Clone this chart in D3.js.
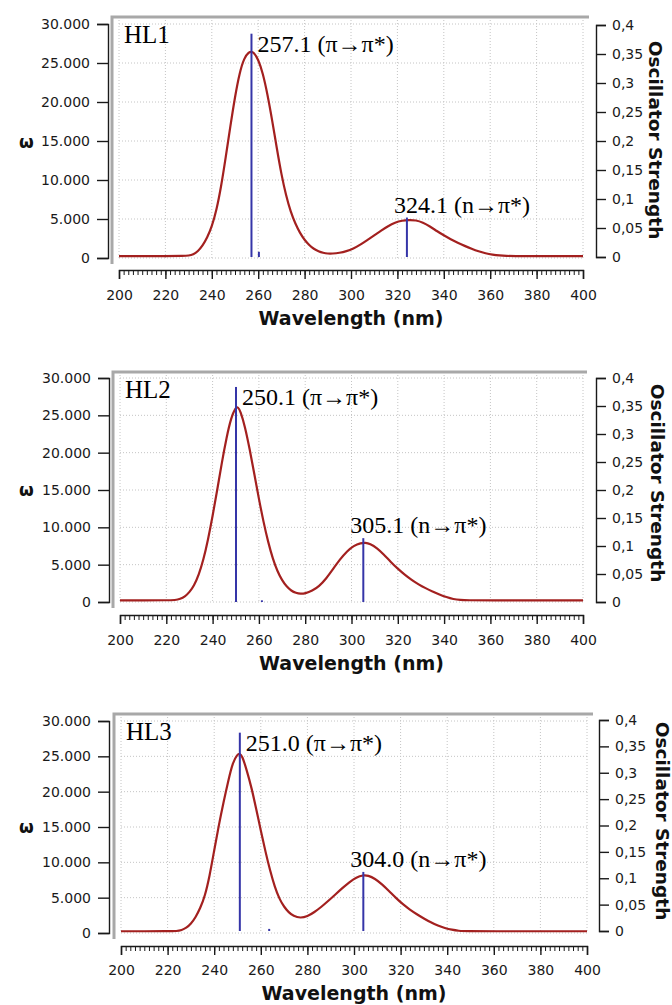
<!DOCTYPE html>
<html>
<head>
<meta charset="utf-8">
<script src="https://cdn.jsdelivr.net/npm/d3@7"></script>
<style>
  body { margin: 0; background: #fff; }
  svg { display: block; }
</style>
</head>
<body>
<div id="chart"></div>
<script>
// tick values
const wavelengthTicks = [200, 220, 240, 260, 280, 300, 320, 340, 360, 380, 400];
const epsilonTicks = [0, 5000, 10000, 15000, 20000, 25000, 30000];
const strengthTicks = [0, 0.05, 0.1, 0.15, 0.2, 0.25, 0.3, 0.35, 0.4];

// HL1 spectrum
const hl1Wl = [200, 210, 220, 228, 230, 232, 234, 236, 238, 240, 242, 244, 246, 248, 250, 252, 254, 256, 257, 258, 260, 262, 264, 266, 268, 270, 272, 274, 276, 278, 280, 282, 284, 286, 288, 290, 292, 295, 298, 301, 304, 307, 310, 313, 316, 319, 322, 325, 328, 331, 334, 337, 340, 343, 346, 349, 352, 355, 358, 361, 364, 367, 370, 380, 390, 400];
const hl1Eps = [250, 250, 250, 260, 300, 450, 850, 1550, 2600, 4000, 6100, 9100, 12900, 16900, 20700, 23800, 25700, 26400, 26450, 26400, 25500, 23700, 21000, 17700, 14100, 10700, 8000, 5900, 4400, 3200, 2300, 1650, 1150, 850, 650, 560, 560, 650, 850, 1200, 1700, 2300, 2900, 3500, 4100, 4550, 4800, 4880, 4850, 4550, 4050, 3450, 2900, 2400, 1950, 1550, 1180, 850, 600, 430, 320, 260, 250, 250, 250, 250];
const hl1StickWl = [257.1, 260.3, 324.1];
const hl1StickF = [0.385, 0.009, 0.068];
const hl1Notes = ["257.1 (π→π*)", null, "324.1 (n→π*)"];

// HL2 spectrum
const hl2Wl = [200, 210, 220, 224, 226, 228, 230, 232, 234, 236, 238, 240, 242, 244, 246, 248, 250, 251, 252, 254, 256, 258, 260, 262, 264, 266, 268, 270, 272, 274, 276, 278, 280, 283, 286, 289, 292, 295, 298, 301, 304, 306, 308, 311, 314, 317, 320, 323, 326, 329, 332, 335, 338, 341, 344, 347, 350, 360, 380, 400];
const hl2Eps = [230, 230, 230, 250, 400, 700, 1300, 2200, 3600, 5600, 8300, 11500, 15000, 18700, 22000, 24700, 26100, 26100, 25600, 23500, 20500, 17200, 13800, 10700, 8000, 5800, 4100, 2900, 2050, 1500, 1200, 1080, 1150, 1500, 2100, 3100, 4400, 5700, 6800, 7550, 7900, 7950, 7800, 7250, 6350, 5350, 4450, 3650, 2950, 2350, 1850, 1400, 1000, 650, 380, 260, 230, 230, 230, 230];
const hl2StickWl = [250.1, 261.3, 305.1];
const hl2StickF = [0.384, 0.003, 0.114];
const hl2Notes = ["250.1 (π→π*)", null, "305.1 (n→π*)"];

// HL3 spectrum
const hl3Wl = [200, 210, 220, 224, 226, 228, 230, 232, 234, 236, 238, 240, 242, 244, 246, 248, 250, 251, 252, 254, 256, 258, 260, 262, 264, 266, 268, 270, 272, 274, 277, 280, 283, 286, 289, 292, 295, 298, 301, 304, 306, 309, 312, 315, 318, 321, 324, 327, 330, 333, 336, 339, 342, 345, 348, 360, 380, 400];
const hl3Eps = [250, 250, 250, 260, 400, 700, 1300, 2200, 3500, 5200, 8000, 11700, 15300, 18500, 21500, 24200, 25300, 25400, 25100, 23000, 20600, 17600, 14500, 11500, 8800, 6500, 4800, 3700, 2900, 2400, 2100, 2350, 2950, 3700, 4550, 5450, 6350, 7200, 7900, 8200, 8150, 7700, 6900, 5950, 4950, 4050, 3300, 2650, 2050, 1500, 1050, 700, 450, 300, 250, 250, 250, 250];
const hl3StickWl = [251.0, 263.6, 304.0];
const hl3StickF = [0.376, 0.004, 0.112];
const hl3Notes = ["251.0 (π→π*)", null, "304.0 (n→π*)"];

// layout of each panel (pixels)
const panels = [
  { name: "HL1", wl: hl1Wl, eps: hl1Eps, sWl: hl1StickWl, sF: hl1StickF, notes: hl1Notes,
    x: [119, 583], y: [258, 24], f: [257, 25], leftX: 108, rightX: 596, axisY: 270, labPad: 11,
    frame: [112, 17, 589, 264], titleY: 325, omegaY: 148, oscX: 649, oscY: 140 },
  { name: "HL2", wl: hl2Wl, eps: hl2Eps, sWl: hl2StickWl, sF: hl2StickF, notes: hl2Notes,
    x: [120, 583], y: [602, 378], f: [602, 378], leftX: 109, rightX: 596, axisY: 615, labPad: 11,
    frame: [113, 372, 587, 608], titleY: 670, omegaY: 496, oscX: 651, oscY: 483 },
  { name: "HL3", wl: hl3Wl, eps: hl3Eps, sWl: hl3StickWl, sF: hl3StickF, notes: hl3Notes,
    x: [121, 587], y: [933, 721], f: [931, 720], leftX: 109, rightX: 599, axisY: 946, labPad: 10,
    frame: [114, 714, 593, 939], titleY: 1000, omegaY: 833, oscX: 656, oscY: 821 }
];

const locale = d3.formatLocale({ decimal: ",", thousands: ".", grouping: [3], currency: ["", ""] });
const fmtEps = locale.format(",");
const fmtF = locale.format("");

const sans = "'DejaVu Sans', Verdana, sans-serif";
const serif = "'Liberation Serif', 'Times New Roman', serif";

const svg = d3.select("#chart").append("svg")
  .attr("width", 672).attr("height", 1005);

panels.forEach(p => {
  const x = d3.scaleLinear().domain([200, 400]).range(p.x);
  const y = d3.scaleLinear().domain([0, 30000]).range(p.y);
  const f = d3.scaleLinear().domain([0, 0.4]).range(p.f);
  const g = svg.append("g");

  // dotted grid
  g.append("g").selectAll("line").data(wavelengthTicks).join("line")
    .attr("x1", d => x(d)).attr("x2", d => x(d))
    .attr("y1", p.frame[1] + 3).attr("y2", y(0))
    .attr("stroke", "#c4c4c4").attr("stroke-dasharray", "1,2");
  g.append("g").selectAll("line").data(epsilonTicks).join("line")
    .attr("x1", x(200)).attr("x2", x(400))
    .attr("y1", d => y(d)).attr("y2", d => y(d))
    .attr("stroke", "#c4c4c4").attr("stroke-dasharray", "1,2");

  // grey frame (top and left only)
  const [fl, ft, fr, fb] = p.frame;
  g.append("path")
    .attr("d", `M${fl},${fb}V${ft}H${fr}`)
    .attr("fill", "none").attr("stroke", "#a8a8a8").attr("stroke-width", 3);

  // left axis
  const la = g.append("g").attr("transform", `translate(${p.leftX},0)`)
    .call(d3.axisLeft(y).tickValues(epsilonTicks).tickFormat(fmtEps).tickSize(11).tickPadding(7));
  // right axis
  const ra = g.append("g").attr("transform", `translate(${p.rightX},0)`)
    .call(d3.axisRight(f).tickValues(strengthTicks).tickFormat(fmtF).tickSize(10).tickPadding(6));
  // bottom axis: minor then major ticks
  g.append("g").attr("transform", `translate(0,${p.axisY})`)
    .call(d3.axisBottom(x).tickValues(d3.range(200, 401, 2)).tickFormat("").tickSize(5).tickSizeOuter(0))
    .call(a => a.select(".domain").remove());
  const ba = g.append("g").attr("transform", `translate(0,${p.axisY})`)
    .call(d3.axisBottom(x).tickValues(wavelengthTicks).tickSize(9).tickPadding(p.labPad));

  [la, ra, ba].forEach(a => {
    a.selectAll("text").attr("font-family", sans).attr("font-size", 14).attr("fill", "#1a1a1a");
    a.selectAll("line, path").attr("stroke", "#1a1a1a").attr("stroke-width", 1.4);
  });
  g.selectAll(".tick line").attr("stroke", "#1a1a1a");

  // axis titles
  g.append("text").attr("x", (p.x[0] + p.x[1]) / 2).attr("y", p.titleY)
    .attr("text-anchor", "middle").attr("font-family", sans).attr("font-weight", "bold")
    .attr("font-size", 19).attr("fill", "#111").text("Wavelength (nm)");
  g.append("text").attr("x", 19).attr("y", p.omegaY)
    .attr("font-family", sans).attr("font-weight", "bold").attr("font-size", 17)
    .attr("fill", "#111").text("ω");
  g.append("text").attr("transform", `translate(${p.oscX},${p.oscY}) rotate(90)`)
    .attr("text-anchor", "middle").attr("font-family", sans).attr("font-weight", "bold")
    .attr("font-size", 18.5).attr("fill", "#111").text("Oscillator Strength");

  // spectrum curve
  const pts = p.wl.map((w, i) => [w, p.eps[i]]);
  g.append("path").datum(pts)
    .attr("fill", "none").attr("stroke", "#a3201f").attr("stroke-width", 2.2)
    .attr("d", d3.line().x(d => x(d[0])).y(d => y(d[1])).curve(d3.curveBasis));

  // oscillator sticks
  const sticks = p.sWl.map((w, i) => ({ w, f: p.sF[i], note: p.notes[i] }));
  g.append("g").selectAll("line").data(sticks).join("line")
    .attr("x1", d => x(d.w)).attr("x2", d => x(d.w))
    .attr("y1", f(0)).attr("y2", d => f(d.f))
    .attr("stroke", "#3535a8").attr("stroke-width", 2);

  // transition labels
  g.append("g").selectAll("text").data(sticks.filter(d => d.note)).join("text")
    .attr("x", d => d.note.includes("(π") ? x(d.w) + 6 : x(d.w) - 13)
    .attr("y", d => d.note.includes("(π") ? f(d.f) + 18 : f(d.f) - 5)
    .attr("font-family", serif).attr("font-size", 24).attr("fill", "#000")
    .text(d => d.note);

  g.append("text").attr("x", fl + 12).attr("y", ft + 26)
    .attr("font-family", serif).attr("font-size", 25).attr("fill", "#000").text(p.name);
});
</script>
</body>
</html>
